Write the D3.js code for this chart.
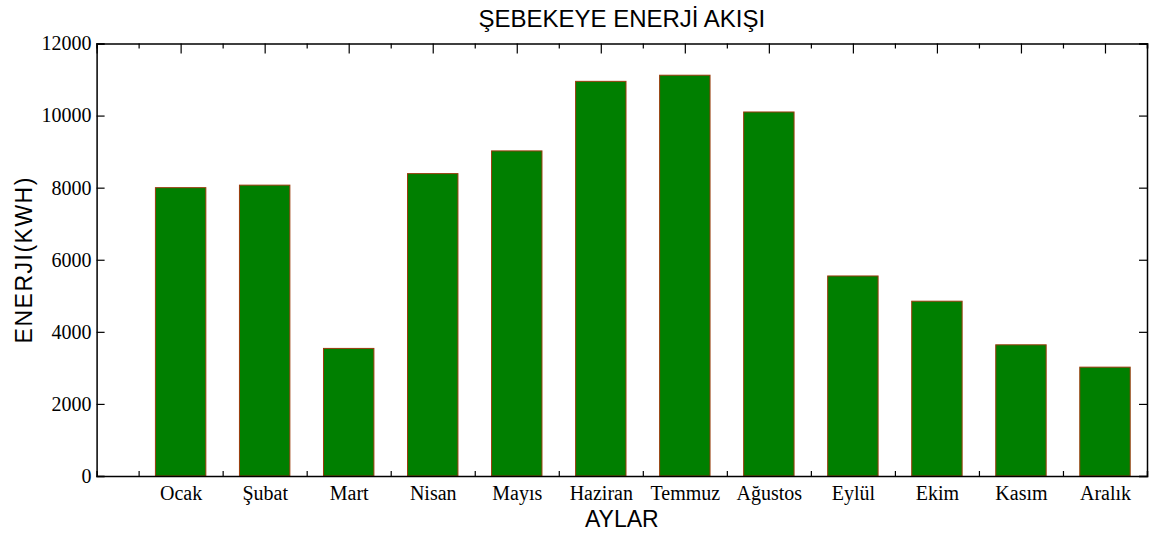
<!DOCTYPE html>
<html>
<head>
<meta charset="utf-8">
<script src="https://cdn.jsdelivr.net/npm/d3@7"></script>
<style>
  html, body { margin: 0; padding: 0; background: #fff; }
  svg { display: block; }
</style>
</head>
<body>
<svg id="chart" width="1157" height="533"></svg>
<script>
// Monthly energy fed into the grid
const months = ["Ocak", "Şubat", "Mart", "Nisan", "Mayıs", "Haziran", "Temmuz", "Ağustos", "Eylül", "Ekim", "Kasım", "Aralık"];
const energy = [8000, 8070, 3540, 8390, 9020, 10950, 11120, 10100, 5550, 4850, 3640, 3020];
const yTicks = [0, 2000, 4000, 6000, 8000, 10000, 12000];

const svg = d3.select("#chart");
const plotL = 96.6, plotR = 1147, plotT = 43.5, plotB = 476;

// bar positions are 1..12 on a linear axis from 0 to 12.5
const x = d3.scaleLinear().domain([0, 12.5]).range([plotL, plotR]);
const y = d3.scaleLinear().domain([0, 12000]).range([plotB, plotT]);
const barW = x(0.6) - x(0);

// bars
svg.append("g").selectAll("rect")
  .data(energy)
  .join("rect")
  .attr("x", (d, i) => x(i + 1) - barW / 2)
  .attr("y", d => y(d))
  .attr("width", barW)
  .attr("height", d => y(0) - y(d))
  .attr("fill", "#007f00")
  .attr("stroke", "#9a3b0c")
  .attr("stroke-width", 1);

const serif = "'Liberation Serif', 'Times New Roman', serif";
const sans = "'Liberation Sans', Arial, sans-serif";

// left axis with labels, right axis with mirrored ticks
const yAxisL = svg.append("g")
  .attr("transform", `translate(${plotL},0)`)
  .call(d3.axisLeft(y).tickValues(yTicks).tickSize(-8).tickPadding(5).tickFormat(d3.format("d")));
const yAxisR = svg.append("g")
  .attr("transform", `translate(${plotR},0)`)
  .call(d3.axisRight(y).tickValues(yTicks).tickSize(-8).tickFormat(""));

// bottom: ticks between bars, labels under bars
const xAxisB = svg.append("g")
  .attr("transform", `translate(0,${plotB})`)
  .call(d3.axisBottom(x).tickValues(d3.range(0.5, 12, 1)).tickSize(-5).tickFormat(""));
const xLabels = svg.append("g")
  .attr("transform", `translate(0,${plotB})`)
  .call(d3.axisBottom(x).tickValues(d3.range(1, 13)).tickSize(0).tickPadding(10)
    .tickFormat((d) => months[d - 1]));
xLabels.select(".domain").remove();

// top: ticks every half unit, longer on whole units
const xAxisT = svg.append("g")
  .attr("transform", `translate(0,${plotT})`)
  .call(d3.axisTop(x).tickValues(d3.range(0, 12.51, 0.5)).tickSize(-5).tickFormat(""));
xAxisT.selectAll(".tick line").attr("y2", d => Number.isInteger(d) ? 10 : 5);

[yAxisL, yAxisR, xAxisB, xAxisT].forEach(g => {
  g.select(".domain").attr("stroke", "#000").attr("stroke-width", 1.5);
  g.selectAll(".tick line").attr("stroke", "#000").attr("stroke-width", 1.2);
});
[yAxisL, xLabels].forEach(g => {
  g.selectAll("text").attr("font-family", serif).attr("font-size", 20).attr("fill", "#000");
});

// titles
svg.append("text")
  .attr("x", (plotL + plotR) / 2).attr("y", 27)
  .attr("text-anchor", "middle")
  .attr("font-family", sans).attr("font-size", 24)
  .text("ŞEBEKEYE ENERJİ AKIŞI");

svg.append("text")
  .attr("x", (plotL + plotR) / 2).attr("y", 527)
  .attr("text-anchor", "middle")
  .attr("font-family", sans).attr("font-size", 23)
  .text("AYLAR");

svg.append("text")
  .attr("transform", `translate(32,${(plotT + plotB) / 2}) rotate(-90)`)
  .attr("text-anchor", "middle")
  .attr("font-family", sans).attr("font-size", 23)
  .attr("letter-spacing", 1.5)
  .text("ENERJI(KWH)");
</script>
</body>
</html>
